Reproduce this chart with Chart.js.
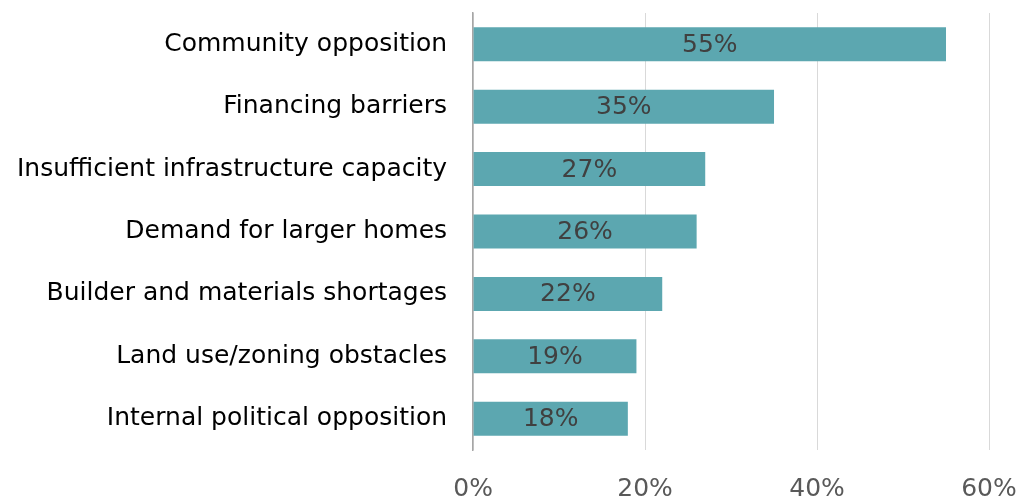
<!DOCTYPE html>
<html>
<head>
<meta charset="utf-8">
<script src="https://cdn.jsdelivr.net/npm/chart.js@4"></script>
<style>
  html, body { margin: 0; padding: 0; background: #fff; }
  #wrap { width: 1035px; height: 499px; }
</style>
</head>
<body>
<div id="wrap"><canvas id="chart"></canvas></div>
<script>
const categories = [
  "Community opposition",
  "Financing barriers",
  "Insufficient infrastructure capacity",
  "Demand for larger homes",
  "Builder and materials shortages",
  "Land use/zoning obstacles",
  "Internal political opposition"
];
const shares = [55, 35, 27, 26, 22, 19, 18];
const xTicks = [0, 20, 40, 60];

const FONT = "Tahoma, 'DejaVu Sans', Verdana, sans-serif";

// draws the % value in the middle of each bar
const barLabels = {
  id: "barLabels",
  afterDatasetsDraw(chart) {
    const ctx = chart.ctx;
    const meta = chart.getDatasetMeta(0);
    ctx.save();
    ctx.font = "25px " + FONT;
    ctx.fillStyle = "#404040";
    ctx.textAlign = "center";
    ctx.textBaseline = "middle";
    meta.data.forEach((bar, i) => {
      const cx = (bar.x + bar.base) / 2;
      ctx.fillText(shares[i] + "%", cx, bar.y + 1);
    });
    ctx.restore();
  }
};

new Chart(document.getElementById("chart"), {
  type: "bar",
  data: {
    labels: categories,
    datasets: [{
      data: shares,
      backgroundColor: "#5ca7b0",
      categoryPercentage: 1,
      barPercentage: 0.545
    }]
  },
  options: {
    indexAxis: "y",
    responsive: true,
    maintainAspectRatio: false,
    animation: false,
    layout: { padding: { top: 13, right: 46, bottom: -29, left: -9 } },
    plugins: {
      legend: { display: false },
      tooltip: { enabled: false }
    },
    scales: {
      x: {
        min: 0,
        max: 60,
        afterBuildTicks(axis) {
          axis.ticks = xTicks.map(v => ({ value: v }));
        },
        afterFit(s) { s.paddingLeft = 0; s.paddingRight = 0; },
        grid: { color: "#d9d9d9", lineWidth: 1, drawTicks: false },
        border: { display: false },
        ticks: {
          padding: 24,
          color: "#595959",
          font: { family: FONT, size: 25 },
          callback: v => v + "%"
        }
      },
      y: {
        afterFit(s) { s.paddingTop = 0; s.paddingBottom = 0; },
        grid: { display: false, drawTicks: false },
        border: { display: true, color: "#a6a6a6", width: 1.5 },
        ticks: {
          padding: 26,
          color: "#000000",
          font: { family: FONT, size: 25 }
        }
      }
    }
  },
  plugins: [barLabels]
});
</script>
</body>
</html>
